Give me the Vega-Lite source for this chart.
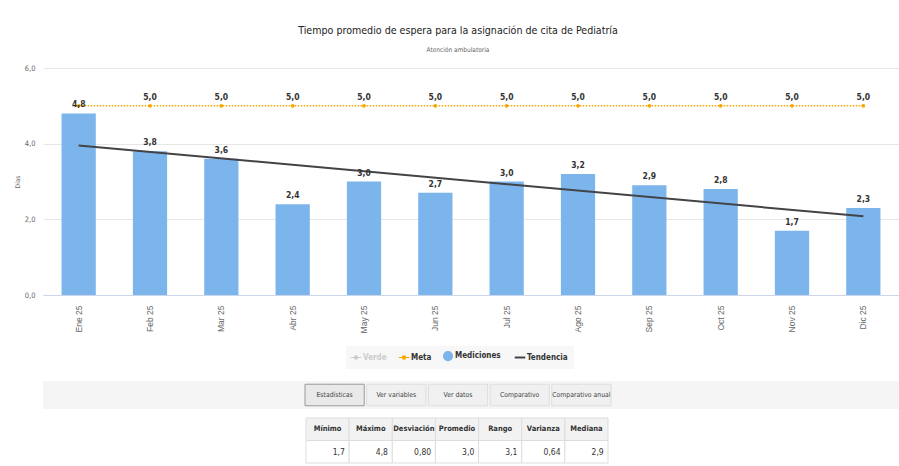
{
  "$schema": "https://vega.github.io/schema/vega-lite/v6.json",
  "padding": {"left": 14, "top": 25, "right": 0, "bottom": 0},
  "background": "white",
  "spacing": 12,
  "config": {
    "locale": {"number": {"decimal": ",", "thousands": ".", "grouping": [3], "currency": ["", " €"]}},
    "view": {"stroke": null},
    "font": "DejaVu Sans Condensed"
  },
  "datasets": {
    "meses": [
      {"mes": "Ene 25", "valor": 4.8, "meta": 5.0},
      {"mes": "Feb 25", "valor": 3.8, "meta": 5.0},
      {"mes": "Mar 25", "valor": 3.6, "meta": 5.0},
      {"mes": "Abr 25", "valor": 2.4, "meta": 5.0},
      {"mes": "May 25", "valor": 3.0, "meta": 5.0},
      {"mes": "Jun 25", "valor": 2.7, "meta": 5.0},
      {"mes": "Jul 25", "valor": 3.0, "meta": 5.0},
      {"mes": "Ago 25", "valor": 3.2, "meta": 5.0},
      {"mes": "Sep 25", "valor": 2.9, "meta": 5.0},
      {"mes": "Oct 25", "valor": 2.8, "meta": 5.0},
      {"mes": "Nov 25", "valor": 1.7, "meta": 5.0},
      {"mes": "Dic 25", "valor": 2.3, "meta": 5.0}
    ],
    "tendencia": [
      {"mes": "Ene 25", "tendencia": 3.95},
      {"mes": "Dic 25", "tendencia": 2.08}
    ],
    "botones": [
      {"boton": "Estadísticas"},
      {"boton": "Ver variables"},
      {"boton": "Ver datos"},
      {"boton": "Comparativo"},
      {"boton": "Comparativo anual"}
    ],
    "tabla": [
      {"col": "Mínimo", "fila": "Encabezado", "texto": "Mínimo"},
      {"col": "Máximo", "fila": "Encabezado", "texto": "Máximo"},
      {"col": "Desviación", "fila": "Encabezado", "texto": "Desviación"},
      {"col": "Promedio", "fila": "Encabezado", "texto": "Promedio"},
      {"col": "Rango", "fila": "Encabezado", "texto": "Rango"},
      {"col": "Varianza", "fila": "Encabezado", "texto": "Varianza"},
      {"col": "Mediana", "fila": "Encabezado", "texto": "Mediana"},
      {"col": "Mínimo", "fila": "Valor", "texto": "1,7"},
      {"col": "Máximo", "fila": "Valor", "texto": "4,8"},
      {"col": "Desviación", "fila": "Valor", "texto": "0,80"},
      {"col": "Promedio", "fila": "Valor", "texto": "3,0"},
      {"col": "Rango", "fila": "Valor", "texto": "3,1"},
      {"col": "Varianza", "fila": "Valor", "texto": "0,64"},
      {"col": "Mediana", "fila": "Valor", "texto": "2,9"}
    ]
  },
  "resolve": {"legend": {"color": "independent"}, "scale": {"color": "independent", "x": "independent", "y": "independent"}},
  "vconcat": [
    {
      "width": 856,
      "height": 227,
      "title": {
        "text": "Tiempo promedio de espera para la asignación de cita de Pediatría",
        "subtitle": "Atención ambulatoria",
        "anchor": "middle",
        "dx": -13,
        "fontSize": 10.6,
        "fontWeight": "normal",
        "color": "#222222",
        "subtitleFontSize": 6.5,
        "subtitleColor": "#666666",
        "subtitlePadding": 10,
        "offset": 11
      },
      "data": {"name": "meses"},
      "encoding": {
        "x": {
          "field": "mes",
          "type": "nominal",
          "sort": null,
          "scale": {
            "domain": ["Ene 25", "Feb 25", "Mar 25", "Abr 25", "May 25", "Jun 25", "Jul 25", "Ago 25", "Sep 25", "Oct 25", "Nov 25", "Dic 25"],
            "paddingInner": 0.52,
            "paddingOuter": 0.26
          },
          "axis": {
            "title": null,
            "labelAngle": -90,
            "labelFontSize": 8.5,
            "labelFont": "Liberation Sans",
            "labelColor": "#666666",
            "domainColor": "#ccd6eb",
            "ticks": false,
            "labelPadding": 10,
            "grid": false
          }
        }
      },
      "layer": [
        {
          "mark": {"type": "bar"},
          "encoding": {
            "y": {
              "field": "valor",
              "type": "quantitative",
              "scale": {"domain": [0, 6], "nice": false},
              "axis": {
                "title": "Días",
                "values": [0, 2, 4, 6],
                "format": ".1f",
                "labelFontSize": 7.5,
                "labelColor": "#666666",
                "domain": false,
                "ticks": false,
                "gridColor": "#e6e6e6",
                "titleFontSize": 6.5,
                "titleColor": "#666666",
                "titleFontWeight": "normal",
                "labelPadding": 8,
                "titlePadding": 4
              }
            },
            "color": {
              "datum": "Mediciones",
              "type": "nominal",
              "scale": {
                "domain": ["Verde", "Meta", "Mediciones", "Tendencia"],
                "range": ["#cccccc", "#f7a800", "#7cb5ec", "#434348"]
              },
              "legend": {
                "title": null,
                "orient": "none",
                "legendX": 303,
                "legendY": 278,
                "direction": "horizontal",
                "fillColor": "#f7f7f7",
                "padding": 6,
                "labelFontSize": 8,
                "labelFontWeight": "bold",
                "labelColor": "#333333",
                "symbolSize": 110,
                "columnPadding": 9,
                "labelOffset": 3,
                "encode": {
                  "symbols": {
                    "update": {
                      "shape": {"signal": "datum.value === 'Mediciones' ? 'circle' : datum.value === 'Tendencia' ? 'stroke' : 'M-1,0H1M-0.3,0A0.3,0.3,0,1,1,0.3,0A0.3,0.3,0,1,1,-0.3,0Z'"},
                      "size": {"signal": "datum.value === 'Mediciones' ? 80 : 110"},
                      "fill": {"signal": "datum.value === 'Mediciones' ? '#7cb5ec' : datum.value === 'Meta' ? '#f7a800' : datum.value === 'Verde' ? '#cccccc' : 'transparent'"},
                      "stroke": {"signal": "datum.value === 'Mediciones' ? '#7cb5ec' : datum.value === 'Meta' ? '#f7a800' : datum.value === 'Verde' ? '#cccccc' : '#434348'"},
                      "strokeWidth": {"signal": "datum.value === 'Tendencia' ? 2 : 1.2"},
                      "opacity": {"value": 1}
                    }
                  },
                  "labels": {
                    "update": {
                      "fill": {"signal": "datum.value === 'Verde' ? '#cccccc' : '#333333'"}
                    }
                  }
                }
              }
            }
          }
        },
        {
          "mark": {"type": "line", "strokeDash": [1.5, 1.5], "strokeWidth": 1.5, "point": {"filled": true, "size": 14}},
          "encoding": {
            "y": {"field": "meta", "type": "quantitative"},
            "color": {"datum": "Meta", "type": "nominal"}
          }
        },
        {
          "data": {"name": "tendencia"},
          "mark": {"type": "line", "strokeWidth": 2},
          "encoding": {
            "y": {"field": "tendencia", "type": "quantitative"},
            "color": {"datum": "Tendencia", "type": "nominal"}
          }
        },
        {
          "mark": {"type": "text", "baseline": "bottom", "dy": -4, "fontWeight": "bold", "fontSize": 8.5, "color": "#333333"},
          "encoding": {
            "y": {"field": "valor", "type": "quantitative"},
            "text": {"field": "valor", "type": "quantitative", "format": ".1f"}
          }
        },
        {
          "transform": [{"filter": "datum.mes !== 'Ene 25'"}],
          "mark": {"type": "text", "baseline": "bottom", "dy": -4, "fontWeight": "bold", "fontSize": 8.5, "color": "#333333"},
          "encoding": {
            "y": {"field": "meta", "type": "quantitative"},
            "text": {"field": "meta", "type": "quantitative", "format": ".1f"}
          }
        }
      ]
    },
    {
      "spacing": 8,
      "vconcat": [
        {
          "width": 856,
          "height": 28,
          "view": {"fill": "#f5f5f5", "stroke": null},
          "data": {"name": "botones"},
          "encoding": {
            "x": {
              "field": "boton",
              "type": "nominal",
              "sort": null,
              "axis": null,
              "scale": {"range": [262, 568], "paddingInner": 0.04, "paddingOuter": 0}
            },
            "y": {"datum": "b", "type": "nominal", "axis": null, "scale": {"paddingOuter": 0.15, "paddingInner": 0}}
          },
          "layer": [
            {
              "mark": {"type": "rect", "strokeWidth": 1},
              "encoding": {
                "fill": {"condition": {"test": "datum.boton === 'Estadísticas'", "value": "#e9e9e9"}, "value": "#f0f0f0"},
                "stroke": {"condition": {"test": "datum.boton === 'Estadísticas'", "value": "#999999"}, "value": "#dddddd"}
              }
            },
            {
              "mark": {"type": "text", "fontSize": 6.8, "color": "#444444"},
              "encoding": {"text": {"field": "boton"}}
            }
          ]
        },
        {
          "width": 856,
          "height": 45,
          "data": {"name": "tabla"},
          "encoding": {
            "x": {
              "field": "col",
              "type": "nominal",
              "sort": null,
              "axis": null,
              "scale": {"range": [263, 565], "paddingInner": 0, "paddingOuter": 0}
            },
            "y": {"field": "fila", "type": "nominal", "sort": null, "axis": null}
          },
          "layer": [
            {
              "mark": {"type": "rect", "stroke": "#dddddd", "strokeWidth": 1},
              "encoding": {
                "fill": {"condition": {"test": "datum.fila === 'Encabezado'", "value": "#f2f2f2"}, "value": "#ffffff"}
              }
            },
            {
              "transform": [{"filter": "datum.fila === 'Encabezado'"}],
              "mark": {"type": "text", "fontSize": 7.5, "fontWeight": "bold", "color": "#333333"},
              "encoding": {"text": {"field": "texto"}}
            },
            {
              "transform": [{"filter": "datum.fila === 'Valor'"}],
              "mark": {"type": "text", "fontSize": 8.5, "align": "right", "color": "#333333"},
              "encoding": {
                "x": {"field": "col", "type": "nominal", "sort": null, "bandPosition": 0.9},
                "text": {"field": "texto"}
              }
            }
          ]
        }
      ]
    }
  ]
}
